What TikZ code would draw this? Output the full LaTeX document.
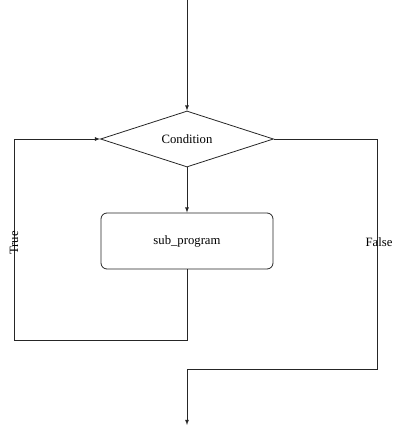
\documentclass[tikz,border=0pt]{standalone}
\usepackage{fontspec}
\setmainfont{Liberation Serif}
\usetikzlibrary{arrows,shapes.geometric,calc}

\begin{document}
\begin{tikzpicture}[>=latex, x=1pt, y=-1pt, font=\fontsize{12.7}{15}\selectfont, line width=0.8pt, draw=black!85]

% Styles for the flowchart
\tikzstyle{decision} = [draw, diamond, aspect=3, inner sep=0pt, minimum width=173pt, minimum height=56pt]
\tikzstyle{block} = [draw, rectangle, rounded corners=6pt, minimum width=172pt, minimum height=56pt, align=center]
\tikzstyle{flow} = [->, draw=black!85]

% Page frame
\useasboundingbox (0,0) rectangle (402,431);

% Nodes
\node[decision] (cond) at (187,139) {Condition};
\node[block] (sub) at (187,241) {sub\_program};

% Free ends and bends
\coordinate (start) at (187,0);
\coordinate (stop) at (187,425);
\coordinate (back) at (14,340);
\coordinate (out) at (377,369);

% Entry and body
\draw[flow] (start) -- (cond.north);
\draw[flow] (cond.south) -- (sub.north);

% True branch loops back
\draw[flow] (sub.south) |- (back) |- (cond.west);
\node[rotate=90, inner sep=1pt] (truelbl) at (14,243) {True};

% False branch leaves the loop
\draw[flow] (cond.east) -| (out) -| (stop);
\node[inner sep=1pt] (falselbl) at (379,242) {False};

\end{tikzpicture}
\end{document}
